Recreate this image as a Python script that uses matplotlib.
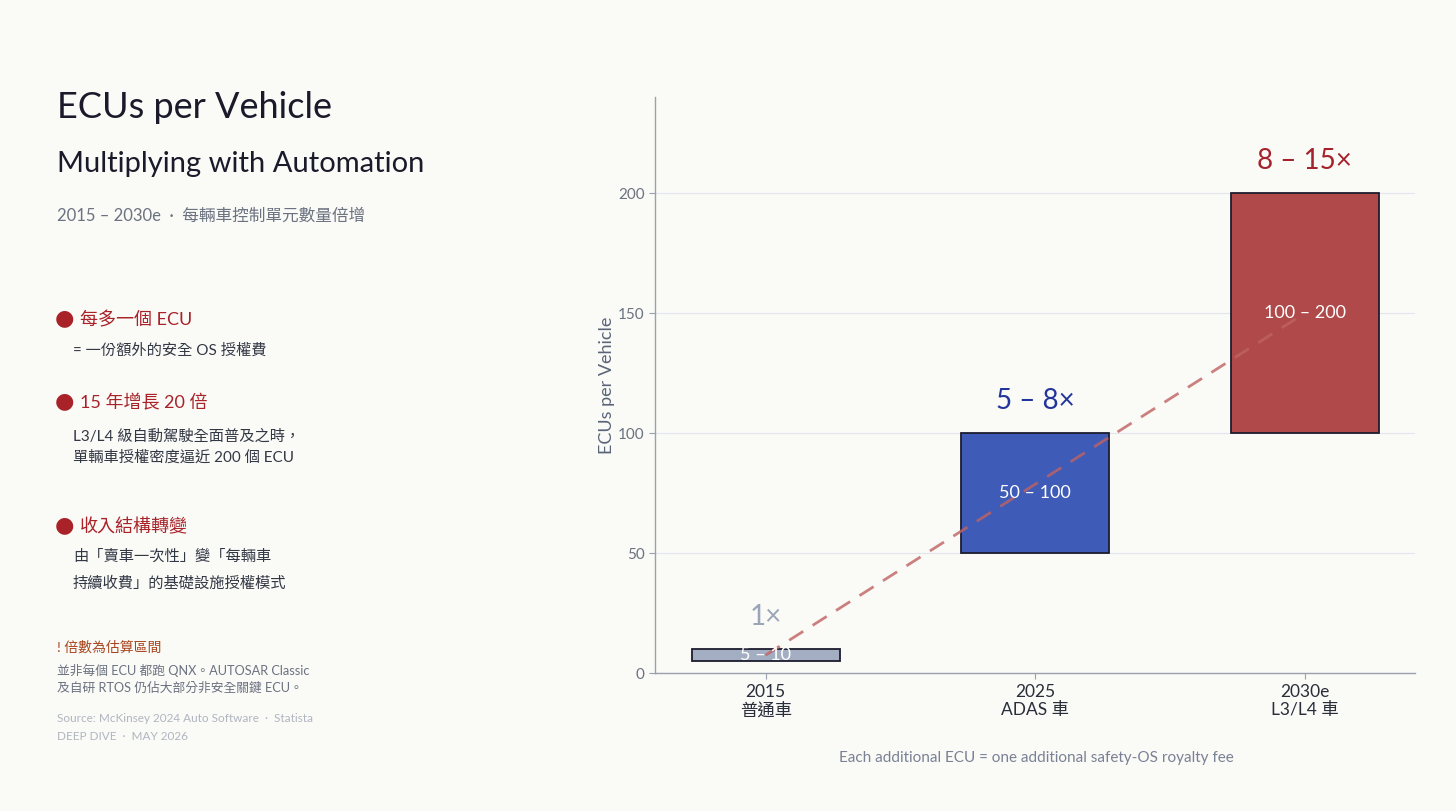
import matplotlib.pyplot as plt

plt.rcParams['font.family'] = ['Lato', 'Noto Sans CJK TC', 'DejaVu Sans']

categories = ['2015\n普通車', '2025\nADAS 車', '2030e\nL3/L4 車']
low = [5, 50, 100]
high = [10, 100, 200]
range_labels = ['5 – 10', '50 – 100', '100 – 200']
multipliers = ['1×', '5 – 8×', '8 – 15×']

bg = '#FAFAF7'
bar_colors = ['#A3AEC2', '#3F5BB8', '#B04A4A']
mult_colors = ['#9AA5B8', '#22359A', '#A3222B']
red = '#A82228'

fig = plt.figure(figsize=(14.56, 8.11), dpi=100, facecolor=bg)

def ftext(x, y, s, **kw):
    # positions in pixels from top-left
    fig.text(x / 1456, 1 - y / 811, s, va='center', ha=kw.pop('ha', 'left'), **kw)

ftext(57, 107, 'ECUs per Vehicle', fontsize=26, color='#1A1A2A')
ftext(57, 164, 'Multiplying with Automation', fontsize=21, color='#1A1A2A')
ftext(57, 216, '2015 – 2030e  ·  每輛車控制單元數量倍增', fontsize=12, color='#6B7280')

bullets = [(320, '每多一個 ECU'), (403, '15 年增長 20 倍'), (527, '收入結構轉變')]
for y, s in bullets:
    ftext(55, y - 2, '●', fontsize=16, color=red, family='DejaVu Sans')
    ftext(80, y, s, fontsize=13, color=red)

ftext(73, 351, '= 一份額外的安全 OS 授權費', fontsize=11, color='#333845')
ftext(73, 437, 'L3/L4 級自動駕駛全面普及之時，', fontsize=11, color='#333845')
ftext(73, 458, '單輛車授權密度逼近 200 個 ECU', fontsize=11, color='#333845')
ftext(73, 557, '由「賣車一次性」變「每輛車', fontsize=11, color='#333845')
ftext(73, 583, '持續收費」的基礎設施授權模式', fontsize=11, color='#333845')

ftext(57, 647, '! 倍數為估算區間', fontsize=10, color='#A8451F')
ftext(57, 670, '並非每個 ECU 都跑 QNX。AUTOSAR Classic', fontsize=9.2, color='#6B7280')
ftext(57, 688, '及自研 RTOS 仍佔大部分非安全關鍵 ECU。', fontsize=9.2, color='#6B7280')
ftext(57, 719, 'Source: McKinsey 2024 Auto Software  ·  Statista', fontsize=8.5, color='#B0B5C0')
ftext(57, 736, 'DEEP DIVE  ·  MAY 2026', fontsize=8.5, color='#B0B5C0')

ax = fig.add_axes([0.45, 0.170, 0.522, 0.710])
ax.set_facecolor(bg)

x = list(range(len(categories)))
heights = [h - l for l, h in zip(low, high)]
ax.bar(x, heights, bottom=low, width=0.55, color=bar_colors,
       edgecolor='#1C1C2E', linewidth=1.3, zorder=2)

mids = [(l + h) / 2 for l, h in zip(low, high)]
ax.plot([x[0], x[-1]], [mids[0], mids[-1]], color='#C06262', alpha=0.8,
        linewidth=2, dashes=(6, 4), zorder=3)

for i in x:
    ax.text(i, mids[i], range_labels[i], ha='center', va='center',
            color='white', fontsize=13, zorder=4)
    ax.text(i, high[i] + 13.5, multipliers[i], ha='center', va='center',
            color=mult_colors[i], fontsize=20, zorder=4)

ax.set_xlim(-0.41, 2.41)
ax.set_ylim(0, 240)
ax.set_yticks([0, 50, 100, 150, 200])
ax.set_xticks(x)
ax.set_xticklabels(categories, fontsize=12.5, color='#2A2E3A', linespacing=1.2)
ax.tick_params(axis='y', labelsize=11, labelcolor='#6B7280', color='#9AA0AE', length=4)
ax.tick_params(axis='x', color='#9AA0AE', length=4)
ax.grid(axis='y', color='#E3E5EC', linewidth=0.8, zorder=0)
ax.set_axisbelow(True)
for s in ['top', 'right']:
    ax.spines[s].set_visible(False)
for s in ['left', 'bottom']:
    ax.spines[s].set_color('#9AA0AE')
    ax.spines[s].set_linewidth(1)
ax.set_ylabel('ECUs per Vehicle', fontsize=13, color='#5A6478', labelpad=2)

ftext(1036, 758, 'Each additional ECU = one additional safety-OS royalty fee',
      fontsize=11, color='#7A8194', ha='center')

fig.savefig('out.png', dpi=100, facecolor=bg)
